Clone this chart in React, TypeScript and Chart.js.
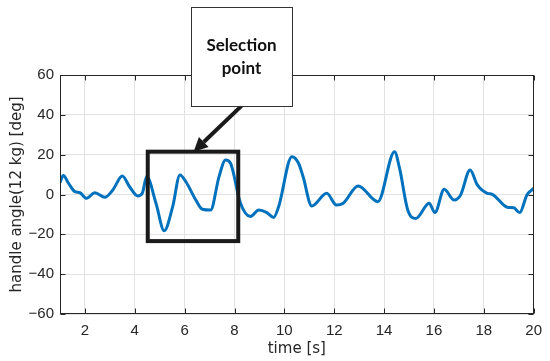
import React, { useEffect, useRef } from "react";
import { Chart, registerables } from "chart.js";

Chart.register(...registerables);

const timeS = [
  1.0, 1.13, 1.35, 1.6, 1.8, 2.06, 2.4, 2.8, 3.12, 3.5, 3.79, 4.12, 4.3, 4.48,
  4.85, 5.18, 5.52, 5.81, 6.05, 6.45, 6.71, 7.04, 7.38, 7.64, 7.84, 8.24, 8.64,
  8.97, 9.3, 9.57, 9.77, 10.3, 10.57, 10.75, 11.1, 11.7, 12.09, 12.36, 12.96,
  13.75, 14.42, 14.62, 14.95, 15.28, 15.81, 16.04, 16.41, 16.81, 17.07, 17.45,
  17.74, 18.14, 18.34, 18.94, 19.2, 19.44, 19.73, 20.0,
];
const angleDeg = [
  6, 9.5, 5.5, 1.4, 0.9, -1.9, 0.9, -1.4, 2.3, 9.3, 3.9, -0.75, 0.6, 9,
  -4.4, -18.2, -6.1, 9.8, 6.4, -2.8, -7.4, -7.8, 9, 17.3, 15.7, -4.4, -11.1,
  -7.8, -9.1, -11.5, -6.1, 19, 15.7, 9, -5.8, 0.6, -5.3, -4.4, 4.3,
  -3.6, 21.5, 13.2, -7.8, -12, -4.4, -9.1, 2.6, -2.8, -0.25, 12.3,
  4.8, 0.6, 0.1, -6.4, -6.7, -9.1, -0.25, 3.1,
];
const xTickValues = [2, 4, 6, 8, 10, 12, 14, 16, 18, 20];
const yTickValues = [-60, -40, -20, 0, 20, 40, 60];
const xRange = [1, 20];
const yRange = [-60, 60];
const xTitle = "time [s]";
const yTitle = "handle angle(12 kg) [deg]";

// annotation in data coordinates
const selectionT = [4.52, 8.15];
const selectionV = [-23.4, 21.5];
const calloutT = [6.26, 10.3];
const calloutV = [44.5, 94.2];
const calloutLines = ["Selection", "point"];
const arrowFromTV = [8.28, 44.5];
const arrowToTV = [6.36, 21.5];

const overlayPlugin = {
  id: "overlay",
  afterDatasetsDraw(chart: any) {
    const { ctx, chartArea: a, scales } = chart;
    const xs = scales.x;
    const ys = scales.y;
    ctx.save();
    // axes box
    ctx.strokeStyle = "#262626";
    ctx.lineWidth = 1;
    const L = Math.round(a.left) + 0.5;
    const R = Math.round(a.right) - 0.5;
    const T = Math.round(a.top) + 0.5;
    const B = Math.round(a.bottom) - 0.5;
    ctx.strokeRect(L, T, R - L, B - T);
    // inward ticks
    const tl = 5;
    ctx.beginPath();
    xs.ticks.forEach((t: any) => {
      const px = Math.round(xs.getPixelForValue(t.value)) + 0.5;
      ctx.moveTo(px, B);
      ctx.lineTo(px, B - tl);
      ctx.moveTo(px, T);
      ctx.lineTo(px, T + tl);
    });
    ys.ticks.forEach((t: any) => {
      const py = Math.round(ys.getPixelForValue(t.value)) + 0.5;
      ctx.moveTo(L, py);
      ctx.lineTo(L + tl, py);
      ctx.moveTo(R, py);
      ctx.lineTo(R - tl, py);
    });
    ctx.stroke();

    // selection rectangle
    const sx1 = xs.getPixelForValue(selectionT[0]);
    const sx2 = xs.getPixelForValue(selectionT[1]);
    const sy1 = ys.getPixelForValue(selectionV[1]);
    const sy2 = ys.getPixelForValue(selectionV[0]);
    ctx.strokeStyle = "#1a1a1a";
    ctx.lineWidth = 4;
    ctx.strokeRect(sx1, sy1, sx2 - sx1, sy2 - sy1);

    // arrow
    const ax1 = xs.getPixelForValue(arrowFromTV[0]);
    const ay1 = ys.getPixelForValue(arrowFromTV[1]);
    const ax2 = xs.getPixelForValue(arrowToTV[0]);
    const ay2 = ys.getPixelForValue(arrowToTV[1]);
    const ang = Math.atan2(ay2 - ay1, ax2 - ax1);
    const headLen = 14;
    const headW = 7;
    const bx = ax2 - headLen * Math.cos(ang);
    const by = ay2 - headLen * Math.sin(ang);
    ctx.strokeStyle = "#1a1a1a";
    ctx.fillStyle = "#1a1a1a";
    ctx.lineWidth = 4;
    ctx.beginPath();
    ctx.moveTo(ax1, ay1);
    ctx.lineTo(bx, by);
    ctx.stroke();
    ctx.beginPath();
    ctx.moveTo(ax2, ay2);
    ctx.lineTo(bx + headW * Math.sin(ang), by - headW * Math.cos(ang));
    ctx.lineTo(bx - headW * Math.sin(ang), by + headW * Math.cos(ang));
    ctx.closePath();
    ctx.fill();

    // callout box
    const cx1 = xs.getPixelForValue(calloutT[0]);
    const cx2 = xs.getPixelForValue(calloutT[1]);
    const cy1 = ys.getPixelForValue(calloutV[1]);
    const cy2 = ys.getPixelForValue(calloutV[0]);
    ctx.fillStyle = "#ffffff";
    ctx.fillRect(cx1, cy1, cx2 - cx1, cy2 - cy1);
    ctx.strokeStyle = "#333333";
    ctx.lineWidth = 1;
    ctx.strokeRect(Math.round(cx1) + 0.5, Math.round(cy1) + 0.5, Math.round(cx2 - cx1), Math.round(cy2 - cy1));
    ctx.fillStyle = "#111111";
    ctx.font = "bold 17px Lato, 'Open Sans', sans-serif";
    ctx.textAlign = "center";
    ctx.textBaseline = "middle";
    const cxm = (cx1 + cx2) / 2;
    const cym = (cy1 + cy2) / 2;
    ctx.fillText(calloutLines[0], cxm, cym - 11);
    ctx.fillText(calloutLines[1], cxm, cym + 12);
    ctx.restore();
  },
};

export default function App() {
  const ref = useRef<HTMLCanvasElement | null>(null);
  useEffect(() => {
    if (!ref.current) return;
    const data = timeS.map((t, i) => ({ x: t, y: angleDeg[i] }));
    const tickFont = { family: "'Liberation Sans', Arial, sans-serif", size: 15 };
    const titleFont = { family: "'DejaVu Sans', sans-serif", size: 15 };
    const chart = new Chart(ref.current, {
      type: "line",
      data: {
        datasets: [
          {
            data,
            borderColor: "#0072BD",
            borderWidth: 3,
            pointRadius: 0,
            cubicInterpolationMode: "monotone",
            fill: false,
          },
        ],
      },
      options: {
        animation: false,
        responsive: false,
        maintainAspectRatio: false,
        layout: { padding: { top: 75, right: 13, left: 0, bottom: 0 } },
        plugins: { legend: { display: false }, tooltip: { enabled: false } },
        scales: {
          x: {
            type: "linear",
            min: xRange[0],
            max: xRange[1],
            afterBuildTicks: (s: any) => {
              s.ticks = xTickValues.map((v) => ({ value: v }));
            },
            afterFit: (s: any) => {
              s.height = 47;
            },
            grid: { color: "#e3e3e3", drawTicks: false },
            border: { display: false },
            ticks: { color: "#262626", font: tickFont, padding: 8, maxRotation: 0 },
            title: {
              display: true,
              text: xTitle,
              color: "#262626",
              font: titleFont,
              padding: { top: 0, bottom: 3 },
            },
          },
          y: {
            type: "linear",
            min: yRange[0],
            max: yRange[1],
            afterBuildTicks: (s: any) => {
              s.ticks = yTickValues.map((v) => ({ value: v }));
            },
            afterFit: (s: any) => {
              s.width = 60;
            },
            grid: { color: "#e3e3e3", drawTicks: false },
            border: { display: false },
            ticks: {
              color: "#262626",
              font: tickFont,
              padding: 6,
              callback: (v: any) => (Number(v) < 0 ? "\u2212" + Math.abs(Number(v)) : String(v)),
            },
            title: {
              display: true,
              text: yTitle,
              color: "#262626",
              font: titleFont,
              padding: { top: 8, bottom: 0 },
            },
          },
        },
      } as any,
      plugins: [overlayPlugin],
    });
    return () => chart.destroy();
  }, []);
  return (
    <div style={{ position: "fixed", left: 0, top: 0, width: 550, height: 361, background: "#fff" }}>
      <canvas ref={ref} width={550} height={361} style={{ display: "block", width: 550, height: 361 }} />
    </div>
  );
}
